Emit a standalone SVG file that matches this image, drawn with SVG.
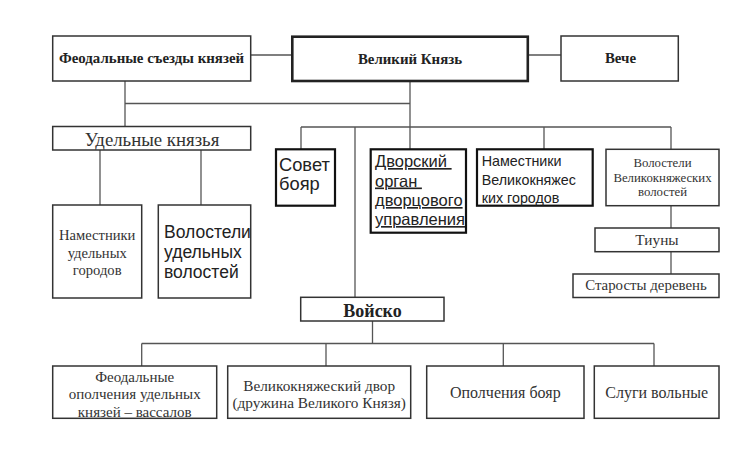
<svg xmlns="http://www.w3.org/2000/svg" width="745" height="470" viewBox="0 0 745 470">
<style>
.box{fill:#fff;stroke:#333;stroke-width:1.5}
.thick{fill:#fff;stroke:#111;stroke-width:2.2}
.conn line{stroke:#555;stroke-width:1.3}
.sb{font-family:"Liberation Serif",serif;font-weight:bold;fill:#222;text-anchor:middle}
.sr{font-family:"Liberation Serif",serif;fill:#333;text-anchor:middle}
.ss{font-family:"Liberation Sans",Arial,sans-serif;fill:#222}
</style>
<rect width="745" height="470" fill="#fff"/>
<g class="conn" id="connectors">
<line x1="250.7" y1="55" x2="292" y2="55"/>
<line x1="528" y1="55" x2="561" y2="55"/>
<line x1="125" y1="81" x2="125" y2="126"/>
<line x1="125" y1="103.5" x2="410" y2="103.5"/>
<line x1="410" y1="81" x2="410" y2="149"/>
<line x1="301" y1="127" x2="671" y2="127"/>
<line x1="301" y1="127" x2="301" y2="149"/>
<line x1="355" y1="127" x2="355" y2="297"/>
<line x1="544" y1="127" x2="544" y2="149"/>
<line x1="671" y1="127" x2="671" y2="149"/>
<line x1="671" y1="205.7" x2="671" y2="228"/>
<line x1="671" y1="251.7" x2="671" y2="274"/>
<line x1="100" y1="150" x2="100" y2="205"/>
<line x1="201" y1="150" x2="201" y2="205"/>
<line x1="372.5" y1="321" x2="372.5" y2="343.5"/>
<line x1="141.7" y1="343.5" x2="654" y2="343.5"/>
<line x1="141.7" y1="343.5" x2="141.7" y2="366"/>
<line x1="326" y1="343.5" x2="326" y2="366"/>
<line x1="503.3" y1="343.5" x2="503.3" y2="366"/>
<line x1="654" y1="343.5" x2="654" y2="366"/>
</g>
<g id="feod-sezdy"><rect class="box" x="52.7" y="36" width="198" height="45"/><text class="sb" x="151.5" y="63" font-size="14.9">Феодальные съезды князей</text></g>
<g id="velikiy-knyaz"><rect x="292.3" y="36.7" width="235.5" height="44.3" fill="#fff" stroke="#222" stroke-width="2.6"/><text class="sb" x="410" y="63.5" font-size="14.9">Великий Князь</text></g>
<g id="veche"><rect class="box" x="561" y="36" width="117.3" height="45"/><text class="sb" x="620.5" y="63" font-size="14.9">Вече</text></g>
<g id="udelnye"><rect class="box" x="52.7" y="126.5" width="198" height="23.5"/><text class="sr" x="152" y="145.5" font-size="18.8">Удельные князья</text></g>
<g id="namestniki-udel"><rect class="box" x="52.7" y="205" width="89" height="93"/><text class="sr" x="97.2" y="239.5" font-size="14.6">Наместники</text><text class="sr" x="97.2" y="257.5" font-size="14.6">удельных</text><text class="sr" x="97.2" y="275" font-size="14.6">городов</text></g>
<g id="volosteli-udel"><rect class="box" x="158.3" y="205" width="92.4" height="93"/><text class="ss" x="164" y="237.5" font-size="17.5">Волостели</text><text class="ss" x="164" y="258" font-size="17.5">удельных</text><text class="ss" x="164" y="277.5" font-size="17.5">волостей</text></g>
<g id="sovet"><rect class="thick" x="276" y="149.3" width="59" height="56.4"/><text class="ss" x="279" y="171" font-size="18.3">Совет</text><text class="ss" x="279" y="190" font-size="18.3">бояр</text></g>
<g id="dvorskiy"><rect class="thick" x="370.7" y="149.3" width="95.3" height="83.4"/><text class="ss" x="375" y="167" font-size="16.5" text-decoration="underline">Дворский&#160;</text><text class="ss" x="375" y="186.5" font-size="16.5" text-decoration="underline">орган&#160;</text><text class="ss" x="375" y="206" font-size="16.5" text-decoration="underline">дворцового</text><text class="ss" x="375" y="225" font-size="16.5" text-decoration="underline">управления</text></g>
<g id="namestniki-vel"><rect class="thick" x="477" y="149.3" width="115.7" height="56.4"/><text class="ss" x="481.7" y="166" font-size="14.3">Наместники</text><text class="ss" x="481.7" y="184.5" font-size="14.3">Великокняжес</text><text class="ss" x="481.7" y="202.5" font-size="14.3">ких городов</text></g>
<g id="volosteli-vel"><rect class="box" x="606" y="149.3" width="113" height="56.4"/><text class="sr" x="662.5" y="167" font-size="12.8">Волостели</text><text class="sr" x="662.5" y="181.7" font-size="12.8">Великокняжеских</text><text class="sr" x="662.5" y="196.3" font-size="12.8">волостей</text></g>
<g id="tiuny"><rect class="box" x="595" y="228" width="124" height="23.7"/><text class="sr" x="657" y="245" font-size="15.3">Тиуны</text></g>
<g id="starosty"><rect class="box" x="573" y="274" width="146" height="23.5"/><text class="sr" x="646" y="290" font-size="14.9">Старосты деревень</text></g>
<g id="voysko"><rect class="box" x="300.7" y="297.3" width="143.3" height="23.7"/><text class="sb" x="372.5" y="316.5" font-size="18">Войско</text></g>
<g id="feod-opolch"><rect class="box" x="52.7" y="366" width="164" height="52.3"/><text class="sr" x="134.7" y="382" font-size="15">Феодальные</text><text class="sr" x="134.7" y="399" font-size="15">ополчения удельных</text><text class="sr" x="134.7" y="416.5" font-size="15">князей – вассалов</text></g>
<g id="vel-dvor"><rect class="box" x="227.7" y="366" width="183" height="52.3"/><text class="sr" x="319.2" y="391" font-size="15.3">Великокняжеский двор</text><text class="sr" x="319.2" y="408" font-size="15.3">(дружина Великого Князя)</text></g>
<g id="opolch-boyar"><rect class="box" x="426.7" y="366" width="157.3" height="52.3"/><text class="sr" x="505.3" y="398" font-size="16">Ополчения бояр</text></g>
<g id="slugi"><rect class="box" x="594.3" y="366" width="124.7" height="52.3"/><text class="sr" x="656.7" y="398" font-size="16">Слуги вольные</text></g>
</svg>
